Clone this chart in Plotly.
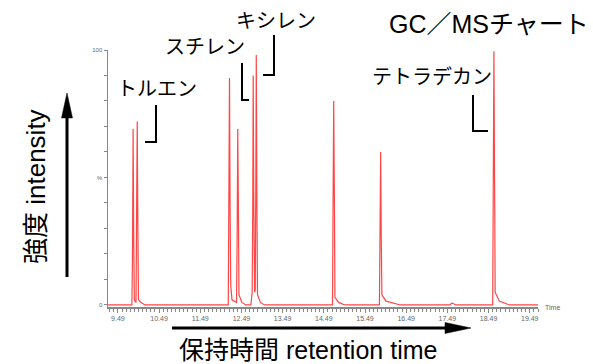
import plotly.graph_objects as go

# ---------------- data ----------------
chrom_time = [
    9.25, 9.83, 9.845, 9.86, 9.875, 9.89, 9.93, 9.945, 9.96, 9.975, 9.99, 10.05, 10.15,
    12.17, 12.185, 12.20, 12.215, 12.23, 12.26,
    12.37, 12.385, 12.40, 12.415, 12.43, 12.50, 12.60,
    12.72, 12.75, 12.765, 12.775, 12.79, 12.81, 12.825, 12.84, 12.85, 12.865, 12.88, 12.95, 13.05,
    14.70, 14.715, 14.73, 14.745, 14.76, 14.85, 15.00,
    15.84, 15.855, 15.87, 15.885, 15.90, 16.00, 16.20, 16.35,
    17.55, 17.60, 17.70,
    18.59, 18.605, 18.62, 18.635, 18.65, 18.75, 18.90, 19.00,
    19.69,
]
chrom_intensity = [
    0, 0, 20, 69, 25, 2, 1, 30, 72, 30, 2, 1, 0,
    0, 30, 89, 35, 8, 2,
    1, 25, 69, 40, 4, 1, 0,
    0, 5, 40, 90, 40, 5, 6, 50, 98, 40, 4, 1, 0,
    0, 25, 80, 45, 3, 1, 0,
    0, 20, 60, 25, 4, 1.5, 0.5, 0,
    0, 0.8, 0,
    0, 50, 99.5, 50, 5, 1.5, 0.5, 0,
    0,
]

x_tick_values = [9.49, 10.49, 11.49, 12.49, 13.49, 14.49, 15.49, 16.49, 17.49, 18.49, 19.49]
x_tick_labels = ["9.49", "10.49", "11.49", "12.49", "13.49", "14.49", "15.49", "16.49", "17.49", "18.49", "19.49"]
y_tick_values = [0, 10, 20, 30, 40, 50, 60, 70, 80, 90, 100]
y_tick_labels = ["0", "", "", "", "", "%", "", "", "", "", "100"]

compound_names = ["トルエン", "スチレン", "キシレン", "テトラデカン"]
title_text = "GC／MSチャート"
y_label = "強度 intensity"
x_label = "保持時間 retention time"

# ---------------- layout helpers (pixel -> paper) ----------------
W, H = 593, 364
L, R, T, B = 108, 55, 50, 57
PW, PH = W - L - R, H - T - B


def px(x):
    return (x - L) / PW


def py(y):
    return (H - B - y) / PH


FONT = "Liberation Sans, Noto Sans CJK JP, sans-serif"

fig = go.Figure()
fig.add_trace(go.Scatter(
    x=chrom_time, y=chrom_intensity, mode="lines",
    line=dict(color="rgb(255,70,70)", width=1.2),
    hoverinfo="skip",
))

shapes = []
# leader lines
for pts in [
    [(156, 105), (156, 142), (145, 142)],
    [(242, 63), (242, 100), (249, 100)],
    [(274, 35), (274, 75), (263, 75)],
    [(473, 95), (473, 131), (488, 131)],
]:
    path = "M " + " L ".join(f"{px(a):.5f},{py(b):.5f}" for a, b in pts)
    shapes.append(dict(type="path", xref="paper", yref="paper", path=path,
                       line=dict(color="black", width=2)))

# vertical arrow
shapes.append(dict(type="line", xref="paper", yref="paper",
                   x0=px(67), y0=py(277), x1=px(67), y1=py(112),
                   line=dict(color="black", width=3)))
shapes.append(dict(type="path", xref="paper", yref="paper",
                   path=f"M {px(67):.5f},{py(93):.5f} L {px(61.5):.5f},{py(118):.5f} L {px(72.5):.5f},{py(118):.5f} Z",
                   fillcolor="black", line=dict(color="black", width=0.5)))
# horizontal arrow
shapes.append(dict(type="line", xref="paper", yref="paper",
                   x0=px(172), y0=py(328), x1=px(450), y1=py(328),
                   line=dict(color="black", width=3)))
shapes.append(dict(type="path", xref="paper", yref="paper",
                   path=f"M {px(471):.5f},{py(328):.5f} L {px(445):.5f},{py(322.5):.5f} L {px(445):.5f},{py(333.5):.5f} Z",
                   fillcolor="black", line=dict(color="black", width=0.5)))

annotations = []


def label(text, cx, cy, size, angle=0):
    annotations.append(dict(text=text, x=px(cx), y=py(cy), xref="paper", yref="paper",
                            xanchor="center", yanchor="middle", showarrow=False,
                            textangle=angle, font=dict(family=FONT, size=size, color="black")))


label(title_text, 489, 24, 25)
label(compound_names[0], 157, 89, 20)
label(compound_names[1], 205, 47, 20)
label(compound_names[2], 276, 21, 20)
label(compound_names[3], 432, 77, 20)
label(y_label, 36, 187, 26, angle=-90)
label(x_label, 308, 350, 25)

annotations.append(dict(text="Time", x=px(543), y=py(307), xref="paper", yref="paper",
                        xanchor="left", yanchor="middle", showarrow=False,
                        font=dict(family=FONT, size=7, color="#666666")))

fig.update_layout(
    width=W, height=H,
    margin=dict(l=L, r=R, t=T, b=B, pad=0),
    paper_bgcolor="white", plot_bgcolor="white",
    showlegend=False,
    shapes=shapes,
    annotations=annotations,
    xaxis=dict(
        range=[9.25, 19.69], showgrid=False, zeroline=False,
        showline=True, linecolor="#888888", linewidth=1.5,
        tickmode="array", tickvals=x_tick_values, ticktext=x_tick_labels,
        ticks="outside", ticklen=4, tickcolor="#888888", tickwidth=1,
        tickfont=dict(family=FONT, size=7, color="#666666"),
        minor=dict(tickmode="linear", tick0=9.49, dtick=0.1, ticks="outside",
                   ticklen=3, tickcolor="#888888", tickwidth=1, showgrid=False),
    ),
    yaxis=dict(
        range=[-0.8, 100], showgrid=False, zeroline=False,
        showline=True, linecolor="#888888", linewidth=1.5,
        tickmode="array", tickvals=y_tick_values, ticktext=y_tick_labels,
        ticks="outside", ticklen=3, tickcolor="#888888", tickwidth=1,
        tickfont=dict(family=FONT, size=6, color="#666666"),
    ),
)

fig.write_html(
    "out.html",
    config={"displayModeBar": False, "staticPlot": True},
    post_script="document.body.style.margin='0';document.body.style.overflow='hidden';",
)
